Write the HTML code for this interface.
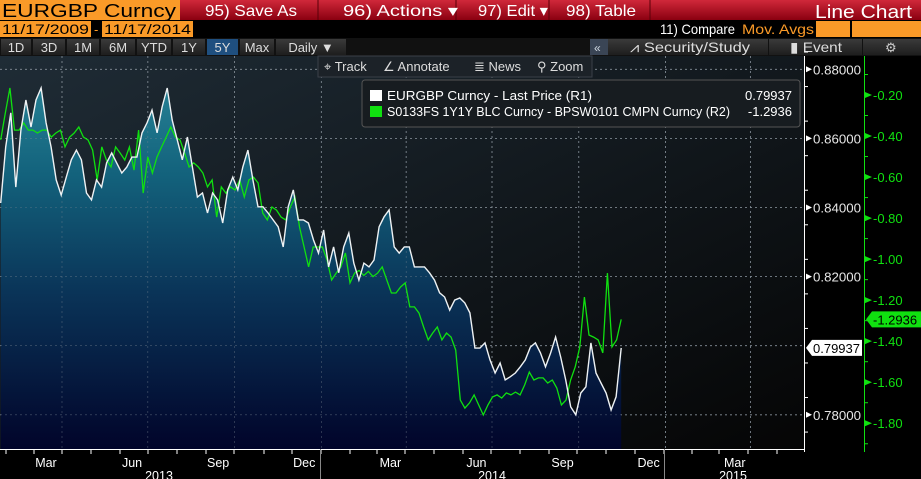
<!DOCTYPE html>
<html><head><meta charset="utf-8"><style>
html,body{margin:0;padding:0;background:#000;width:921px;height:479px;overflow:hidden}
svg{display:block}
text{font-family:"Liberation Sans",sans-serif}
</style></head><body>
<svg id="chart" width="921" height="479" xmlns="http://www.w3.org/2000/svg">
<defs>
<linearGradient id="bg" x1="0" y1="0" x2="1" y2="1"><stop offset="0" stop-color="#1f2c36"/><stop offset="1" stop-color="#050505"/></linearGradient>
<linearGradient id="fill" x1="0" y1="57" x2="0" y2="449" gradientUnits="userSpaceOnUse"><stop offset="0" stop-color="#2b8a9c"/><stop offset="0.3" stop-color="#13627c"/><stop offset="0.6" stop-color="#0a3458"/><stop offset="1" stop-color="#01042a"/></linearGradient>
<linearGradient id="red" x1="0" y1="0" x2="0" y2="1"><stop offset="0" stop-color="#d0283a"/><stop offset="1" stop-color="#8a0010"/></linearGradient>
<linearGradient id="btn" x1="0" y1="0" x2="0" y2="1"><stop offset="0" stop-color="#3a3a3a"/><stop offset="1" stop-color="#1e1e1e"/></linearGradient>
</defs>
<rect x="0" y="0" width="921" height="20" fill="url(#red)"/>
<rect x="0" y="0" width="180" height="20" fill="#fa9a28"/>
<text x="2" y="17" font-size="18" fill="#000" textLength="174" lengthAdjust="spacingAndGlyphs">EURGBP Curncy</text>
<g stroke="#5a0008" stroke-width="1"><line x1="318" y1="0" x2="318" y2="20"/><line x1="456" y1="0" x2="456" y2="20"/><line x1="549" y1="0" x2="549" y2="20"/><line x1="650" y1="0" x2="650" y2="20"/></g>
<text x="205" y="16" font-size="16" fill="#fff" textLength="92" lengthAdjust="spacingAndGlyphs">95) Save As</text>
<text x="343" y="16" font-size="16" fill="#fff" textLength="115" lengthAdjust="spacingAndGlyphs">96) Actions ▾</text>
<text x="478" y="16" font-size="16" fill="#fff" textLength="70" lengthAdjust="spacingAndGlyphs">97) Edit ▾</text>
<text x="566" y="16" font-size="16" fill="#fff" textLength="70" lengthAdjust="spacingAndGlyphs">98) Table</text>
<text x="815" y="18" font-size="18" fill="#fff" textLength="97" lengthAdjust="spacingAndGlyphs">Line Chart</text>
<rect x="0" y="20" width="921" height="18" fill="#000"/>
<rect x="0" y="21" width="91" height="16" fill="#fa9a28"/>
<text x="2" y="34" font-size="14" fill="#000" textLength="87" lengthAdjust="spacingAndGlyphs">11/17/2009</text>
<text x="94" y="34" font-size="13" fill="#fa9a28">-</text>
<rect x="102" y="21" width="91" height="16" fill="#fa9a28"/>
<text x="104" y="34" font-size="14" fill="#000" textLength="87" lengthAdjust="spacingAndGlyphs">11/17/2014</text>
<text x="660" y="34" font-size="14" fill="#fff" textLength="75" lengthAdjust="spacingAndGlyphs">11) Compare</text>
<text x="742" y="34" font-size="14" fill="#fa9a28" textLength="72" lengthAdjust="spacingAndGlyphs">Mov. Avgs</text>
<rect x="816" y="21" width="34" height="16" fill="#fa9a28"/>
<rect x="852" y="21" width="69" height="16" fill="#fa9a28"/>
<rect x="0" y="38" width="921" height="18" fill="#111"/>
<g id="periods"></g>
<rect x="590" y="39" width="18" height="16" fill="#3a4555"/>
<text x="594" y="52" font-size="12" fill="#cfd8e0">«</text>
<rect x="608" y="39" width="160" height="16" fill="url(#btn)"/>
<text x="630" y="52" font-size="14" fill="#ddd" textLength="120" lengthAdjust="spacingAndGlyphs">⩘ Security/Study</text>
<rect x="769" y="39" width="93" height="16" fill="url(#btn)"/>
<text x="790" y="52" font-size="14" fill="#ddd" textLength="52" lengthAdjust="spacingAndGlyphs">▮ Event</text>
<rect x="863" y="39" width="58" height="16" fill="url(#btn)"/>
<text x="885" y="52" font-size="13" fill="#ccc">⚙</text>
<rect x="0" y="56" width="804" height="393" fill="url(#bg)"/>
<g id="grid"></g>
<path id="area" fill="url(#fill)"/>
<g id="vgrid2"></g>
<path id="greenLine" fill="none" stroke="#10e010" stroke-width="1.3"/>
<path id="whiteLine" fill="none" stroke="#eef2f4" stroke-width="1.4"/>
<g>
<rect x="318" y="56" width="274" height="21" fill="#1c2228" stroke="#3a4048"/>
<text x="324" y="71" font-size="13" fill="#ddd">⌖ Track</text>
<text x="383" y="71" font-size="13" fill="#ddd">∠ Annotate</text>
<text x="474" y="71" font-size="13" fill="#ddd">≣ News</text>
<text x="537" y="71" font-size="13" fill="#ddd">⚲ Zoom</text>
</g>
<g>
<rect x="362" y="80" width="438" height="47" rx="3" fill="#171c20" stroke="#555"/>
<rect x="370" y="90" width="12" height="11" fill="#fff"/>
<text x="387" y="100" font-size="13" fill="#fff" textLength="205" lengthAdjust="spacingAndGlyphs">EURGBP Curncy - Last Price (R1)</text>
<text x="792" y="100" font-size="13" fill="#fff" text-anchor="end">0.79937</text>
<rect x="370" y="106" width="12" height="11" fill="#10e010"/>
<text x="387" y="116" font-size="13" fill="#fff" textLength="343" lengthAdjust="spacingAndGlyphs">S0133FS 1Y1Y BLC Curncy - BPSW0101 CMPN Curncy (R2)</text>
<text x="792" y="116" font-size="13" fill="#fff" text-anchor="end">-1.2936</text>
</g>
<g id="axes"></g>
</svg>
<script>
const whiteValues=[0.8413,0.8575,0.8674,0.8459,0.8624,0.8711,0.8633,0.8711,0.8746,0.8645,0.8575,0.8480,0.8436,0.8488,0.8538,0.8566,0.8538,0.8442,0.8422,0.8480,0.8459,0.8529,0.8558,0.8529,0.8500,0.8517,0.8546,0.8546,0.8616,0.8645,0.8682,0.8616,0.8691,0.8746,0.8653,0.8595,0.8538,0.8604,0.8517,0.8430,0.8442,0.8384,0.8442,0.8422,0.8355,0.8451,0.8488,0.8451,0.8517,0.8566,0.8480,0.8402,0.8402,0.8384,0.8364,0.8344,0.8286,0.8402,0.8451,0.8364,0.8364,0.8355,0.8306,0.8268,0.8335,0.8228,0.8286,0.8211,0.8286,0.8326,0.8239,0.8190,0.8239,0.8228,0.8248,0.8344,0.8373,0.8393,0.8286,0.8268,0.8286,0.8286,0.8228,0.8228,0.8228,0.8211,0.8190,0.8153,0.8141,0.8103,0.8132,0.8138,0.8124,0.8095,0.7993,0.7993,0.8008,0.7959,0.7921,0.7950,0.7901,0.7910,0.7921,0.7939,0.7959,0.7996,0.8008,0.7979,0.7939,0.7979,0.8025,0.7967,0.7901,0.7823,0.7800,0.7863,0.7881,0.8008,0.7921,0.7892,0.7863,0.7814,0.7852,0.79937];
const greenValues=[-0.419,-0.288,-0.166,-0.371,-0.371,-0.336,-0.371,-0.371,-0.385,-0.371,-0.371,-0.405,-0.385,-0.371,-0.453,-0.405,-0.385,-0.356,-0.405,-0.419,-0.468,-0.614,-0.453,-0.517,-0.551,-0.453,-0.483,-0.517,-0.453,-0.566,-0.371,-0.678,-0.502,-0.580,-0.502,-0.453,-0.405,-0.356,-0.405,-0.419,-0.483,-0.551,-0.531,-0.551,-0.580,-0.648,-0.614,-0.795,-0.648,-0.678,-0.648,-0.663,-0.614,-0.697,-0.614,-0.600,-0.629,-0.775,-0.809,-0.746,-0.761,-0.795,-0.809,-0.746,-0.697,-0.843,-0.941,-1.038,-0.941,-0.941,-0.941,-1.004,-1.102,-1.068,-1.038,-0.970,-1.116,-1.068,-1.055,-1.080,-1.060,-1.085,-1.068,-1.038,-1.102,-1.165,-1.165,-1.136,-1.116,-1.233,-1.233,-1.263,-1.331,-1.394,-1.360,-1.331,-1.394,-1.360,-1.380,-1.443,-1.687,-1.726,-1.701,-1.662,-1.711,-1.760,-1.711,-1.672,-1.662,-1.677,-1.652,-1.662,-1.648,-1.662,-1.613,-1.550,-1.589,-1.579,-1.579,-1.604,-1.589,-1.628,-1.711,-1.687,-1.589,-1.526,-1.428,-1.185,-1.370,-1.380,-1.394,-1.457,-1.068,-1.428,-1.394,-1.2936];
const leftTicks=[0.88,0.86,0.84,0.82,0.80,0.78];
const leftTickLabels=["0.88000","0.86000","0.84000","0.82000","","0.78000"];
const rightTicks=[-0.2,-0.4,-0.6,-0.8,-1.0,-1.2,-1.4,-1.6,-1.8];
const rightTickLabels=["-0.20","-0.40","-0.60","-0.80","-1.00","-1.20","-1.40","-1.60","-1.80"];
const monthLabels=["Mar","Jun","Sep","Dec","Mar","Jun","Sep","Dec","Mar"];
const yearLabels=["2013","2014","2015"];
const periodLabels=["1D","3D","1M","6M","YTD","1Y","5Y","Max","Daily ▼"];
const startDay=0, endDay=658;

const NS="http://www.w3.org/2000/svg";
function mk(tag,attrs,parent,txt){const e=document.createElementNS(NS,tag);for(const k in attrs)e.setAttribute(k,attrs[k]);if(txt!==undefined)e.textContent=txt;parent.appendChild(e);return e;}
const xDay=d=>0.943*d+0.7;
const yL=v=>69.3+(0.88-v)/0.02*69.1;
const yR=v=>95+(-0.2-v)/0.2*41.03;
const xIdx=(i,n)=>xDay(startDay+(endDay-startDay)*i/(n-1));

const pg=document.getElementById('periods');
const pw=[30,32,32,34,34,32,31,34,70];let px=1;
periodLabels.forEach((l,i)=>{
 const r=mk('rect',{x:px,y:39,width:pw[i],height:16,fill:i===6?'#1f4f7f':'url(#btn)'},pg);
 
 
 mk('text',{x:px+pw[i]/2,y:52,'font-size':13,fill:'#ddd','text-anchor':'middle'},pg,l);
 px+=pw[i]+2;
});

const g=document.getElementById('grid');
leftTicks.forEach(v=>{const l=mk('line',{x1:0,x2:804,y1:yL(v),y2:yL(v),stroke:'#8a9299','stroke-width':0.8,'stroke-dasharray':'2,3'},g);
 });
const quarterDays=[65,156,248,340,430,521,613,705,795];
quarterDays.forEach(d=>{const l=mk('line',{x1:xDay(d),x2:xDay(d),y1:56,y2:449,stroke:'#8a9299','stroke-width':0.8,'stroke-dasharray':'2,3'},g);
 });

function pathOf(vals,yf){return vals.map((v,i)=>(i?'L':'M')+xIdx(i,vals.length).toFixed(1)+','+yf(v).toFixed(1)).join('');}
const wp=pathOf(whiteValues,yL);
document.getElementById('whiteLine').setAttribute('d',wp);
document.getElementById('area').setAttribute('d',wp+'L'+xIdx(whiteValues.length-1,whiteValues.length).toFixed(1)+',449L'+xIdx(0,whiteValues.length)+',449Z');
document.getElementById('greenLine').setAttribute('d',pathOf(greenValues,yR));
const g2=document.getElementById('vgrid2');
leftTicks.forEach(v=>mk('line',{x1:0,x2:804,y1:yL(v),y2:yL(v),stroke:'#7a8590','stroke-width':0.6,'stroke-dasharray':'2,3',opacity:0.6},g2));
quarterDays.forEach(d=>mk('line',{x1:xDay(d),x2:xDay(d),y1:56,y2:449,stroke:'#7a8590','stroke-width':0.6,'stroke-dasharray':'2,3',opacity:0.6},g2));

const ax=document.getElementById('axes');
mk('rect',{x:804,y:56,width:117,height:423,fill:'#000'},ax);
mk('line',{x1:804.5,x2:804.5,y1:56,y2:452,stroke:'#fff','stroke-width':1},ax);
mk('line',{x1:864.5,x2:864.5,y1:56,y2:452,stroke:'#10e010','stroke-width':1},ax);
for(let v=0.885;v>0.774;v-=0.01){mk('line',{x1:804,x2:808,y1:yL(v),y2:yL(v),stroke:'#fff'},ax);}
leftTicks.forEach((v,i)=>{if(!leftTickLabels[i])return;const y=yL(v);
 mk('path',{d:`M806,${y-3}L812,${y}L806,${y+3}Z`,fill:'#fff'},ax);
 const t=mk('text',{x:813,y:y+5,'font-size':13,fill:'#e6e6e6',textLength:48,lengthAdjust:'spacingAndGlyphs'},ax,leftTickLabels[i]);
 });
for(let v=-0.1;v>-1.95;v-=0.2){mk('line',{x1:864,x2:868,y1:yR(v),y2:yR(v),stroke:'#10e010'},ax);}
rightTicks.forEach((v,i)=>{const y=yR(v);
 mk('path',{d:`M865,${y-3}L872,${y}L865,${y+3}Z`,fill:'#10e010'},ax);
 const t=mk('text',{x:873,y:y+5,'font-size':13,fill:'#10e010'},ax,rightTickLabels[i]);
 });
const lw=whiteValues[whiteValues.length-1], lg=greenValues[greenValues.length-1];
let y=yL(lw);
const wt=mk('path',{d:`M806,${y}L812,${y-8}L862,${y-8}L862,${y+8}L812,${y+8}Z`,fill:'#fff'},ax);

mk('text',{x:813,y:y+5,'font-size':13,fill:'#000',textLength:47,lengthAdjust:'spacingAndGlyphs'},ax,lw.toFixed(5));
y=yR(lg);
const gt=mk('path',{d:`M866,${y}L872,${y-8}L921,${y-8}L921,${y+8}L872,${y+8}Z`,fill:'#10e010'},ax);

mk('text',{x:873,y:y+5,'font-size':13,fill:'#000'},ax,lg.toFixed(4));
mk('line',{x1:0,x2:804,y1:449.5,y2:449.5,stroke:'#fff'},ax);
const monthStarts=[6,34,62,91,120,148,177,206,234,264,292,321,350,377,405,434,463,491,520,549,577,606,635,664,692,719,748,777];
monthStarts.forEach(m=>mk('line',{x1:m,x2:m,y1:449,y2:454,stroke:'#fff'},ax));
monthLabels.forEach((l,i)=>{const d=48+i*91.3;
 const t=mk('text',{x:xDay(d),y:467,'font-size':12.5,fill:'#fff','text-anchor':'middle'},ax,l);
 });
[320.5,664.5].forEach(x=>mk('line',{x1:x,x2:x,y1:449,y2:479,stroke:'#888'},ax));
const yearX=[159,492,733];
yearLabels.forEach((l,i)=>{const t=mk('text',{x:yearX[i],y:480,'font-size':12.5,fill:'#fff','text-anchor':'middle'},ax,l);
 });
</script>
</body></html>
